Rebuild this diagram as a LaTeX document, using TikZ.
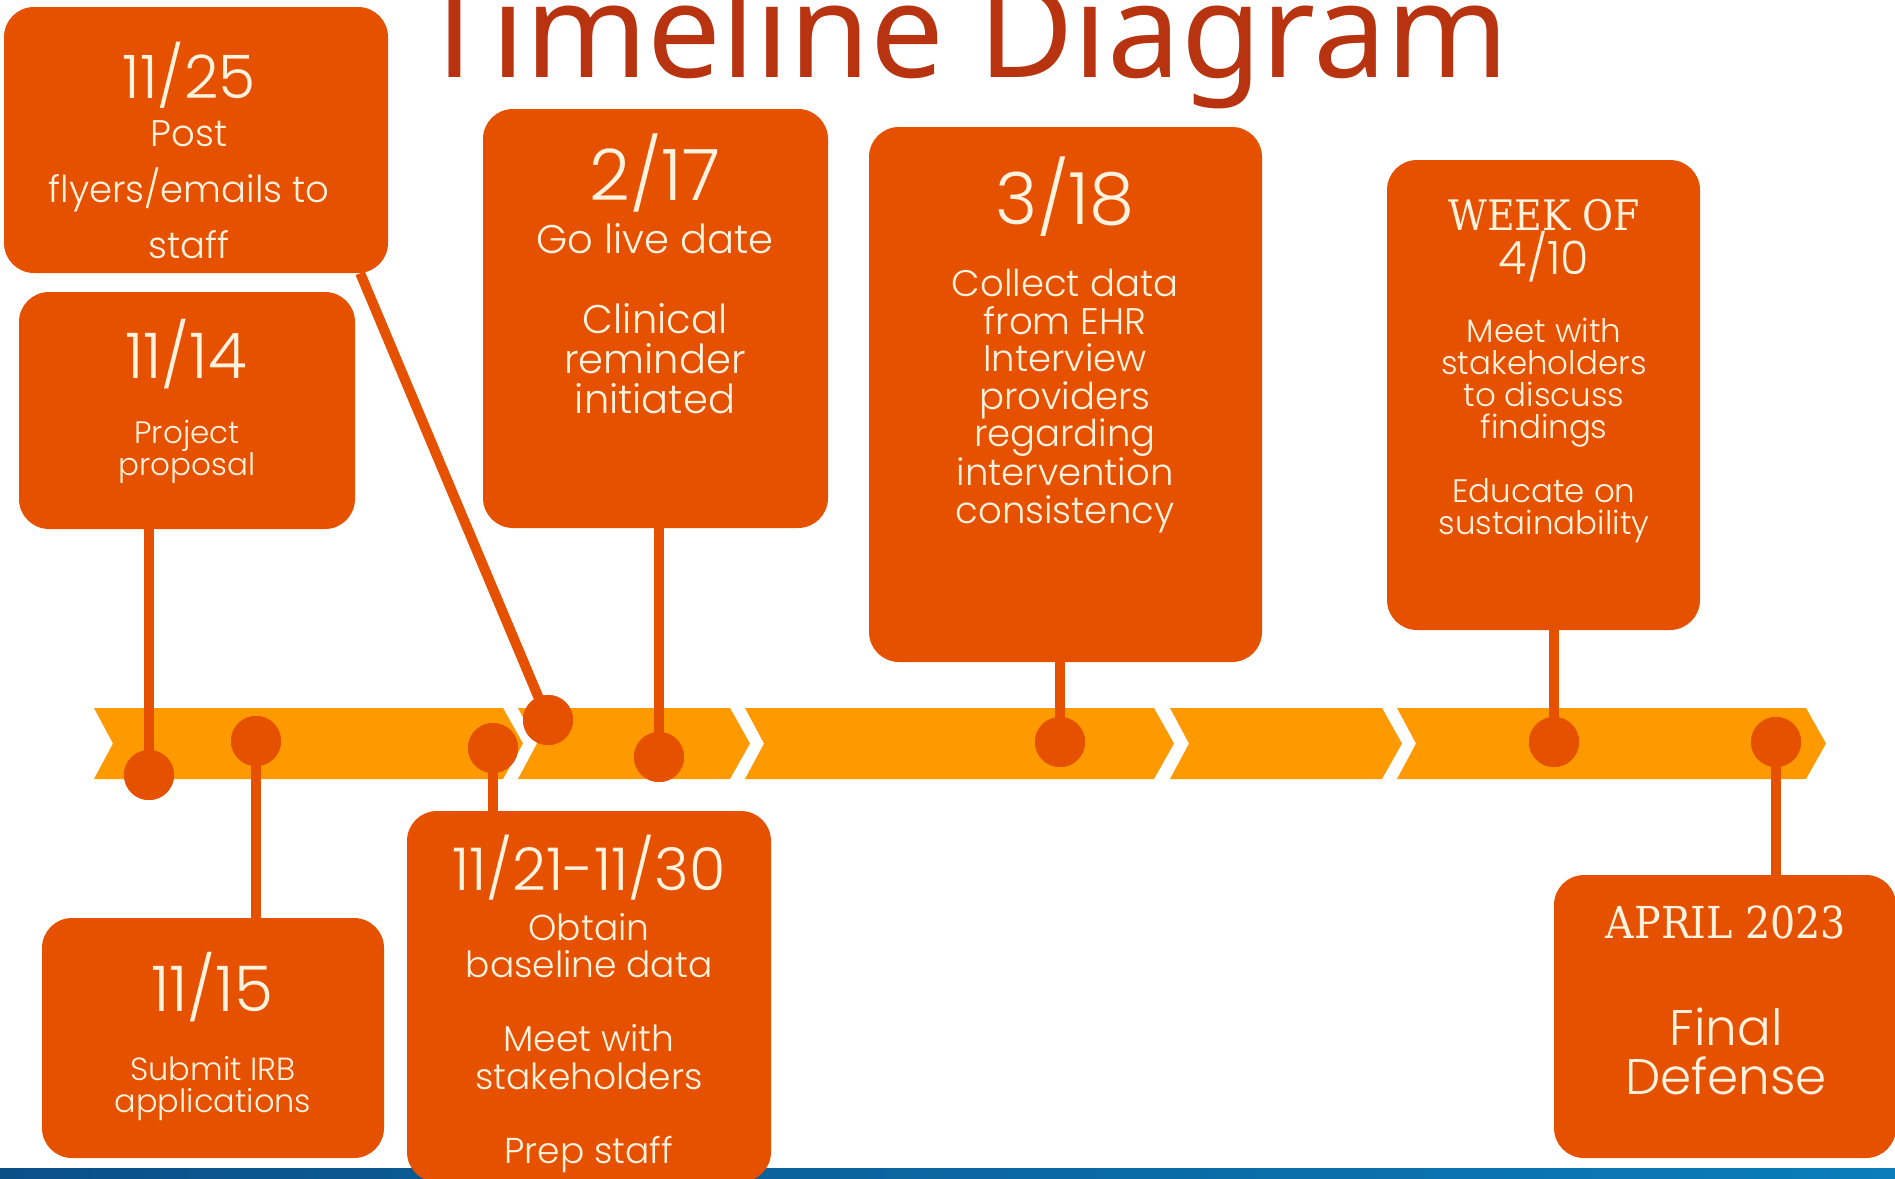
\documentclass[tikz,border=0pt]{standalone}
\usepackage{fontspec}
\setmainfont{Noto Sans}
\newfontfamily\titlefont{Noto Sans}
\newfontfamily\lightsans{Poppins}[UprightFont={* Light}]
\newfontfamily\slabfont{DejaVu Serif Condensed}
\usetikzlibrary{calc}

\definecolor{boxorange}{HTML}{E65100}
\definecolor{bandorange}{HTML}{FE9900}
\definecolor{titlered}{HTML}{B8330F}
\definecolor{cream}{HTML}{FFF3E0}
\definecolor{bardark}{HTML}{0B4F87}
\definecolor{barlight}{HTML}{0A7DBA}

\tikzset{
  event/.style={fill=boxorange, draw=none, rounded corners=30pt, inner sep=0pt},
  dot/.style={circle, fill=boxorange, draw=none, minimum size=50pt, inner sep=0pt},
  stem/.style={draw=boxorange, line width=10pt},
  label/.style={text=cream, align=center, inner sep=0pt},
  chev/.style={fill=bandorange, draw=none},
  sans/.style 2 args={font={\lightsans\fontsize{#1}{#2}\selectfont}},
  slab/.style={font={\slabfont\fontsize{#1}{#1}\selectfont}},
}

% chevron segment: left x, right x
\newcommand{\chevseg}[2]{%
  \fill[chev] (#1,708) -- (#2,708) -- ($(#2,743.5)+(20,0)$) -- (#2,779) -- (#1,779)
    -- ($(#1,743.5)+(19,0)$) -- cycle;}

\begin{document}
\begin{tikzpicture}[x=1pt, y=-1pt]
\useasboundingbox (0,0) rectangle (1895,1178);

% title
\node[anchor=base, text=titlered, inner sep=0pt,
      font={\titlefont\fontsize{131}{150}\selectfont}] (title) at (964,77) {Timeline Diagram};

% footer bar
\shade[left color=bardark, right color=barlight] (0,1168) rectangle (1895,1178);

% timeline band
\chevseg{94}{503}
\chevseg{518}{730}
\chevseg{745}{1154}
\chevseg{1170}{1382}
\chevseg{1397}{1806}

% event boxes
\node[event, minimum width=384pt, minimum height=266pt] (b1125) at (196,140) {};
\node[event, minimum width=336pt, minimum height=237pt] (b1114) at (187,410.5) {};
\node[event, minimum width=345pt, minimum height=419pt] (b217) at (655.5,318.5) {};
\node[event, minimum width=393pt, minimum height=535pt] (b318) at (1065.5,394.5) {};
\node[event, minimum width=313pt, minimum height=470pt] (bweek) at (1543.5,395) {};
\node[event, minimum width=342pt, minimum height=240pt] (b1115) at (213,1038) {};
\node[event, minimum width=364pt, minimum height=371pt] (b1121) at (589,996.5) {};
\node[event, minimum width=342pt, minimum height=283pt] (bapr) at (1725,1016.5) {};

% markers on the band
\node[dot] (d1114) at (149,775) {};
\node[dot] (d1115) at (256,741) {};
\node[dot] (d1121) at (493,748) {};
\node[dot] (d1125) at (548,720) {};
\node[dot] (d217) at (659,757) {};
\node[dot] (d318) at (1060,742) {};
\node[dot] (dweek) at (1554,742) {};
\node[dot] (dapr) at (1776,742) {};

% stems from boxes to markers
\coordinate (c1125) at ($(b1125.south east)+(-28,0)$);
\draw[stem] (c1125) -- (d1125.center);
\draw[stem] (b1114.south -| d1114) -- (d1114.center);
\draw[stem] (d1115.center) -- (b1115.north -| d1115);
\draw[stem] (d1121.center) -- (b1121.north -| d1121);
\draw[stem] (b217.south -| d217) -- (d217.center);
\draw[stem] (b318.south -| d318) -- (d318.center);
\draw[stem] (bweek.south -| dweek) -- (dweek.center);
\draw[stem] (dapr.center) -- (bapr.north -| dapr);

% redraw markers above stems
\foreach \d in {d1114,d1115,d1121,d1125,d217,d318,dweek,dapr}
  \fill[boxorange] (\d) circle (25pt);

% box texts
\node[label, sans={60}{60}] (t1125date) at (189,75) {11/25};
\node[label, sans={37}{56}] (t1125desc) at (189,190) {Post\\flyers/emails to\\staff};

\node[label, sans={63}{62}] (t1114date) at (186,354) {11/14};
\node[label, sans={31}{32}] (t1114desc) at (187,452) {Project\\proposal};

\node[label, sans={71}{72}] (t217date) at (655,173) {2/17};
\node[label, sans={40}{40}] (t217desc) at (655,319) {Go live date\\\mbox{}\\Clinical\\reminder\\initiated};

\node[label, sans={72}{74}] (t318date) at (1065,197) {3/18};
\node[label, sans={37}{37.5}] (t318desc) at (1065,401) {Collect data\\from EHR\\Interview\\providers\\regarding\\intervention\\consistency};

\node[label, slab=42] (tweekhead) at (1544,215) {WEEK OF};
\node[label, sans={46}{48}] (tweekdate) at (1544,257) {4/10};
\node[label, sans={32.5}{32}] (tweekdesc) at (1544,430) {Meet with\\stakeholders\\to discuss\\findings\\\mbox{}\\Educate on\\sustainability};

\node[label, sans={63}{62}] (t1115date) at (212,987) {11/15};
\node[label, sans={32}{32}] (t1115desc) at (213,1089) {Submit IRB\\applications};

\node[label, sans={59}{58}] (t1121date) at (589,868) {11/21-11/30};
\node[label, sans={36}{37.3}] (t1121desc) at (589,1043) {Obtain\\baseline data\\\mbox{}\\Meet with\\stakeholders\\\mbox{}\\Prep staff};

\node[label, slab=44] (taprhead) at (1726,922) {APRIL 2023};
\node[label, sans={50}{49}] (taprdesc) at (1726,1051.5) {Final\\Defense};

\end{tikzpicture}
\end{document}
